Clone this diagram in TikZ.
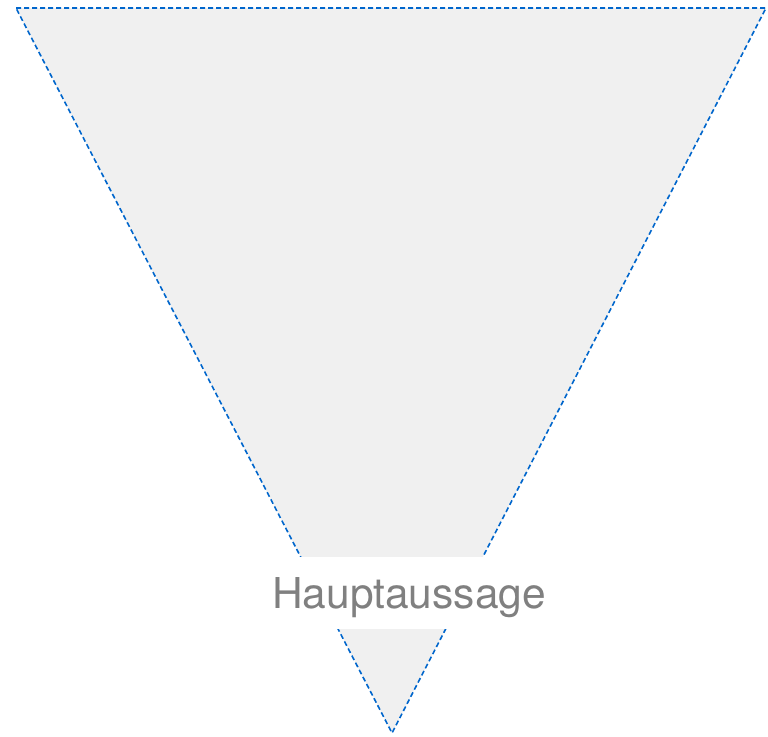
\documentclass[tikz,border=0pt]{standalone}
\usepackage{fontspec}
\setmainfont{TeX Gyre Heros}
\usepackage{tikz}
\usetikzlibrary{calc,positioning}

\definecolor{funnelfill}{HTML}{F0F0F0}
\definecolor{funneledge}{HTML}{0066CC}
\definecolor{labelgray}{HTML}{808080}

\begin{document}
\begin{tikzpicture}[x=1pt,y=-1pt]

% --- STYLES ---
\tikzset{
  funnel/.style={fill=funnelfill, draw=funneledge, line width=1.6pt,
                 dash pattern=on 5pt off 3pt},
  keylabel/.style={fill=white, text=labelgray, font=\fontsize{42.5}{46}\selectfont,
                   minimum width=292pt, minimum height=72pt, inner sep=0pt,
                   text depth=0pt},
}

% ================= FRAME =================
\useasboundingbox (0,0) rectangle (768,736);

% ================= TRIANGLE =================
\coordinate (tl) at (16,8);
\coordinate (tr) at (766,8);
\coordinate (tip) at (392,733);
\draw[funnel] (tl) -- (tr) -- (tip) -- cycle;

% ================= LABEL =================
\node[keylabel] (haupt) at (409,593) {Hauptaussage};

\end{tikzpicture}
\end{document}
